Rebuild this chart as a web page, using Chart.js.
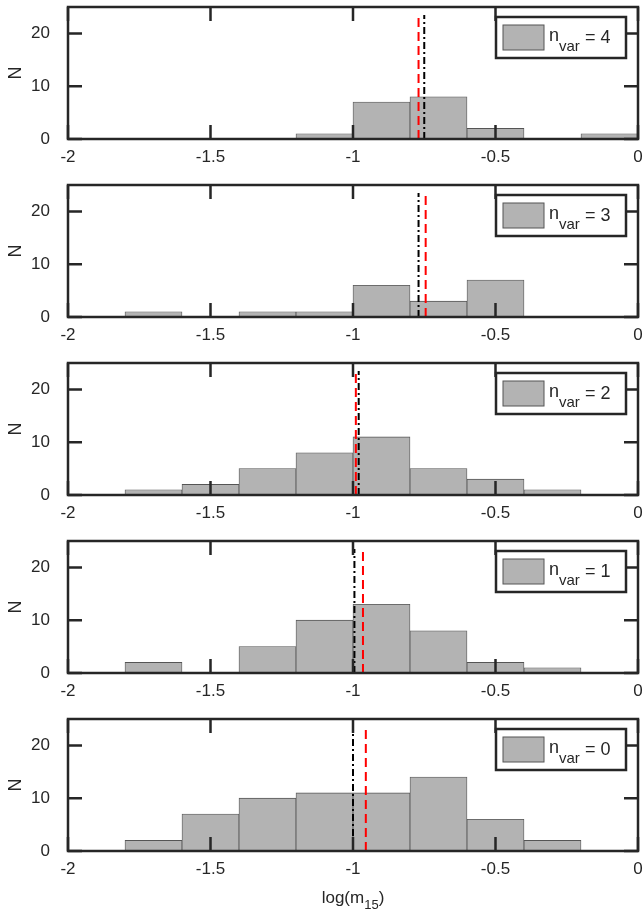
<!DOCTYPE html>
<html><head><meta charset="utf-8">
<script src="https://cdn.jsdelivr.net/npm/chart.js@4"></script>
<style>
body{margin:0;background:#fff;width:644px;height:921px;position:relative;overflow:hidden}
canvas{position:absolute;left:0}
</style></head><body>
<script>
// bin centres (width 0.2) and counts per panel, top to bottom
const binCenters = [-1.9, -1.7, -1.5, -1.3, -1.1, -0.9, -0.7, -0.5, -0.3, -0.1];
const nvarLabels = [4, 3, 2, 1, 0];
const counts = [
  [0, 0, 0, 0, 1, 7, 8, 2, 0, 1],
  [0, 1, 0, 1, 1, 6, 3, 7, 0, 0],
  [0, 1, 2, 5, 8, 11, 5, 3, 1, 0],
  [0, 2, 0, 5, 10, 13, 8, 2, 1, 0],
  [0, 2, 7, 10, 11, 11, 14, 6, 2, 0],
];
const redLines = [-0.77, -0.745, -0.99, -0.965, -0.955];
const blackLines = [-0.75, -0.77, -0.98, -0.995, -1.0];
const xTicks = [-2, -1.5, -1, -0.5, 0];
const yTicks = [0, 10, 20];

const ink = "#262626";
const font = "'Liberation Sans', Arial, sans-serif";

// MATLAB-style box, inward ticks, tick labels, legend
const frame = {
  id: "frame",
  afterDatasetsDraw(chart, args, opts) {
    const c = chart.ctx, a = chart.chartArea;
    const xs = chart.scales.x, ys = chart.scales.y;
    c.save();
    c.strokeStyle = ink;
    c.lineWidth = 2.5;
    c.beginPath();
    xTicks.forEach(v => {
      const px = xs.getPixelForValue(v);
      c.moveTo(px, a.bottom); c.lineTo(px, a.bottom - 14);
      c.moveTo(px, a.top); c.lineTo(px, a.top + 14);
    });
    yTicks.forEach(v => {
      const py = ys.getPixelForValue(v);
      c.moveTo(a.left, py); c.lineTo(a.left + 14, py);
      c.moveTo(a.right, py); c.lineTo(a.right - 14, py);
    });
    c.stroke();
    c.strokeRect(a.left, a.top, a.right - a.left, a.bottom - a.top);

    c.fillStyle = ink;
    c.font = "17px " + font;
    c.textAlign = "center";
    c.textBaseline = "top";
    xTicks.forEach(v => c.fillText(String(v), xs.getPixelForValue(v), a.bottom + 10));
    c.textAlign = "right";
    c.textBaseline = "middle";
    yTicks.forEach(v => c.fillText(String(v), a.left - 18, ys.getPixelForValue(v)));
    c.save();
    c.translate(16, (a.top + a.bottom) / 2);
    c.rotate(-Math.PI / 2);
    c.textAlign = "center";
    c.font = "18px " + font;
    c.fillText("N", 0, 0);
    c.restore();

    // legend box
    c.textAlign = "left";
    const bx = a.right - 142, by = a.top + 10, bw = 130, bh = 41;
    c.fillStyle = "#fff";
    c.fillRect(bx, by, bw, bh);
    c.strokeRect(bx, by, bw, bh);
    c.fillStyle = "#b3b3b3";
    c.fillRect(bx + 7, by + 8, 41, 25);
    c.lineWidth = 1;
    c.strokeStyle = "#555";
    c.strokeRect(bx + 7, by + 8, 41, 25);
    c.fillStyle = ink;
    c.textBaseline = "alphabetic";
    c.font = "18px " + font;
    c.fillText("n", bx + 53, by + 24);
    c.font = "15px " + font;
    c.fillText("var", bx + 63, by + 34);
    c.font = "18px " + font;
    c.fillText("= " + opts.nvar, bx + 89, by + 26);

    if (opts.xlabel) {
      const cx = (a.left + a.right) / 2, y = a.bottom + 52;
      c.font = "17px " + font;
      const w1 = c.measureText("log(m").width;
      c.font = "13px " + font;
      const w2 = c.measureText("15").width;
      c.font = "17px " + font;
      const w3 = c.measureText(")").width;
      let x0 = cx - (w1 + w2 + w3) / 2;
      c.fillText("log(m", x0, y);
      c.font = "13px " + font;
      c.fillText("15", x0 + w1, y + 6);
      c.font = "17px " + font;
      c.fillText(")", x0 + w1 + w2, y);
    }
    c.restore();
  }
};

nvarLabels.forEach((nv, i) => {
  const last = i === nvarLabels.length - 1;
  const cv = document.createElement("canvas");
  const h = last ? 209 : 178;
  cv.style.top = (i * 178) + "px";
  cv.style.width = "644px";
  cv.style.height = h + "px";
  cv.width = 644; cv.height = h;
  document.body.appendChild(cv);

  const vline = (x, color, dash, width, order) => ({
    type: "line",
    data: [{ x: x, y: 0 }, { x: x, y: 23.5 }],
    borderColor: color, borderDash: dash, borderWidth: width,
    pointRadius: 0, order: order,
  });

  new Chart(cv, {
    data: {
      datasets: [
        {
          type: "bar",
          data: binCenters.map((x, k) => ({ x: x, y: counts[i][k] })),
          backgroundColor: "#b3b3b3",
          borderColor: "#555",
          borderWidth: 0.8,
          barPercentage: 1,
          categoryPercentage: 1,
          order: 3,
        },
        vline(blackLines[i], "#000000", [7, 3, 2, 3], 2, 2),
        vline(redLines[i], "#ff0000", [9, 5], 2, 1),
      ],
    },
    options: {
      responsive: false,
      animation: false,
      layout: { padding: { top: 7, right: 6, left: 68, bottom: h - 139 } },
      plugins: { legend: { display: false }, tooltip: { enabled: false },
        frame: { nvar: nv, xlabel: last } },
      scales: {
        x: { type: "linear", min: -2, max: 0, offset: false, display: false },
        y: { min: 0, max: 25, display: false },
      },
    },
    plugins: [frame],
  });
});
</script>
</body></html>
